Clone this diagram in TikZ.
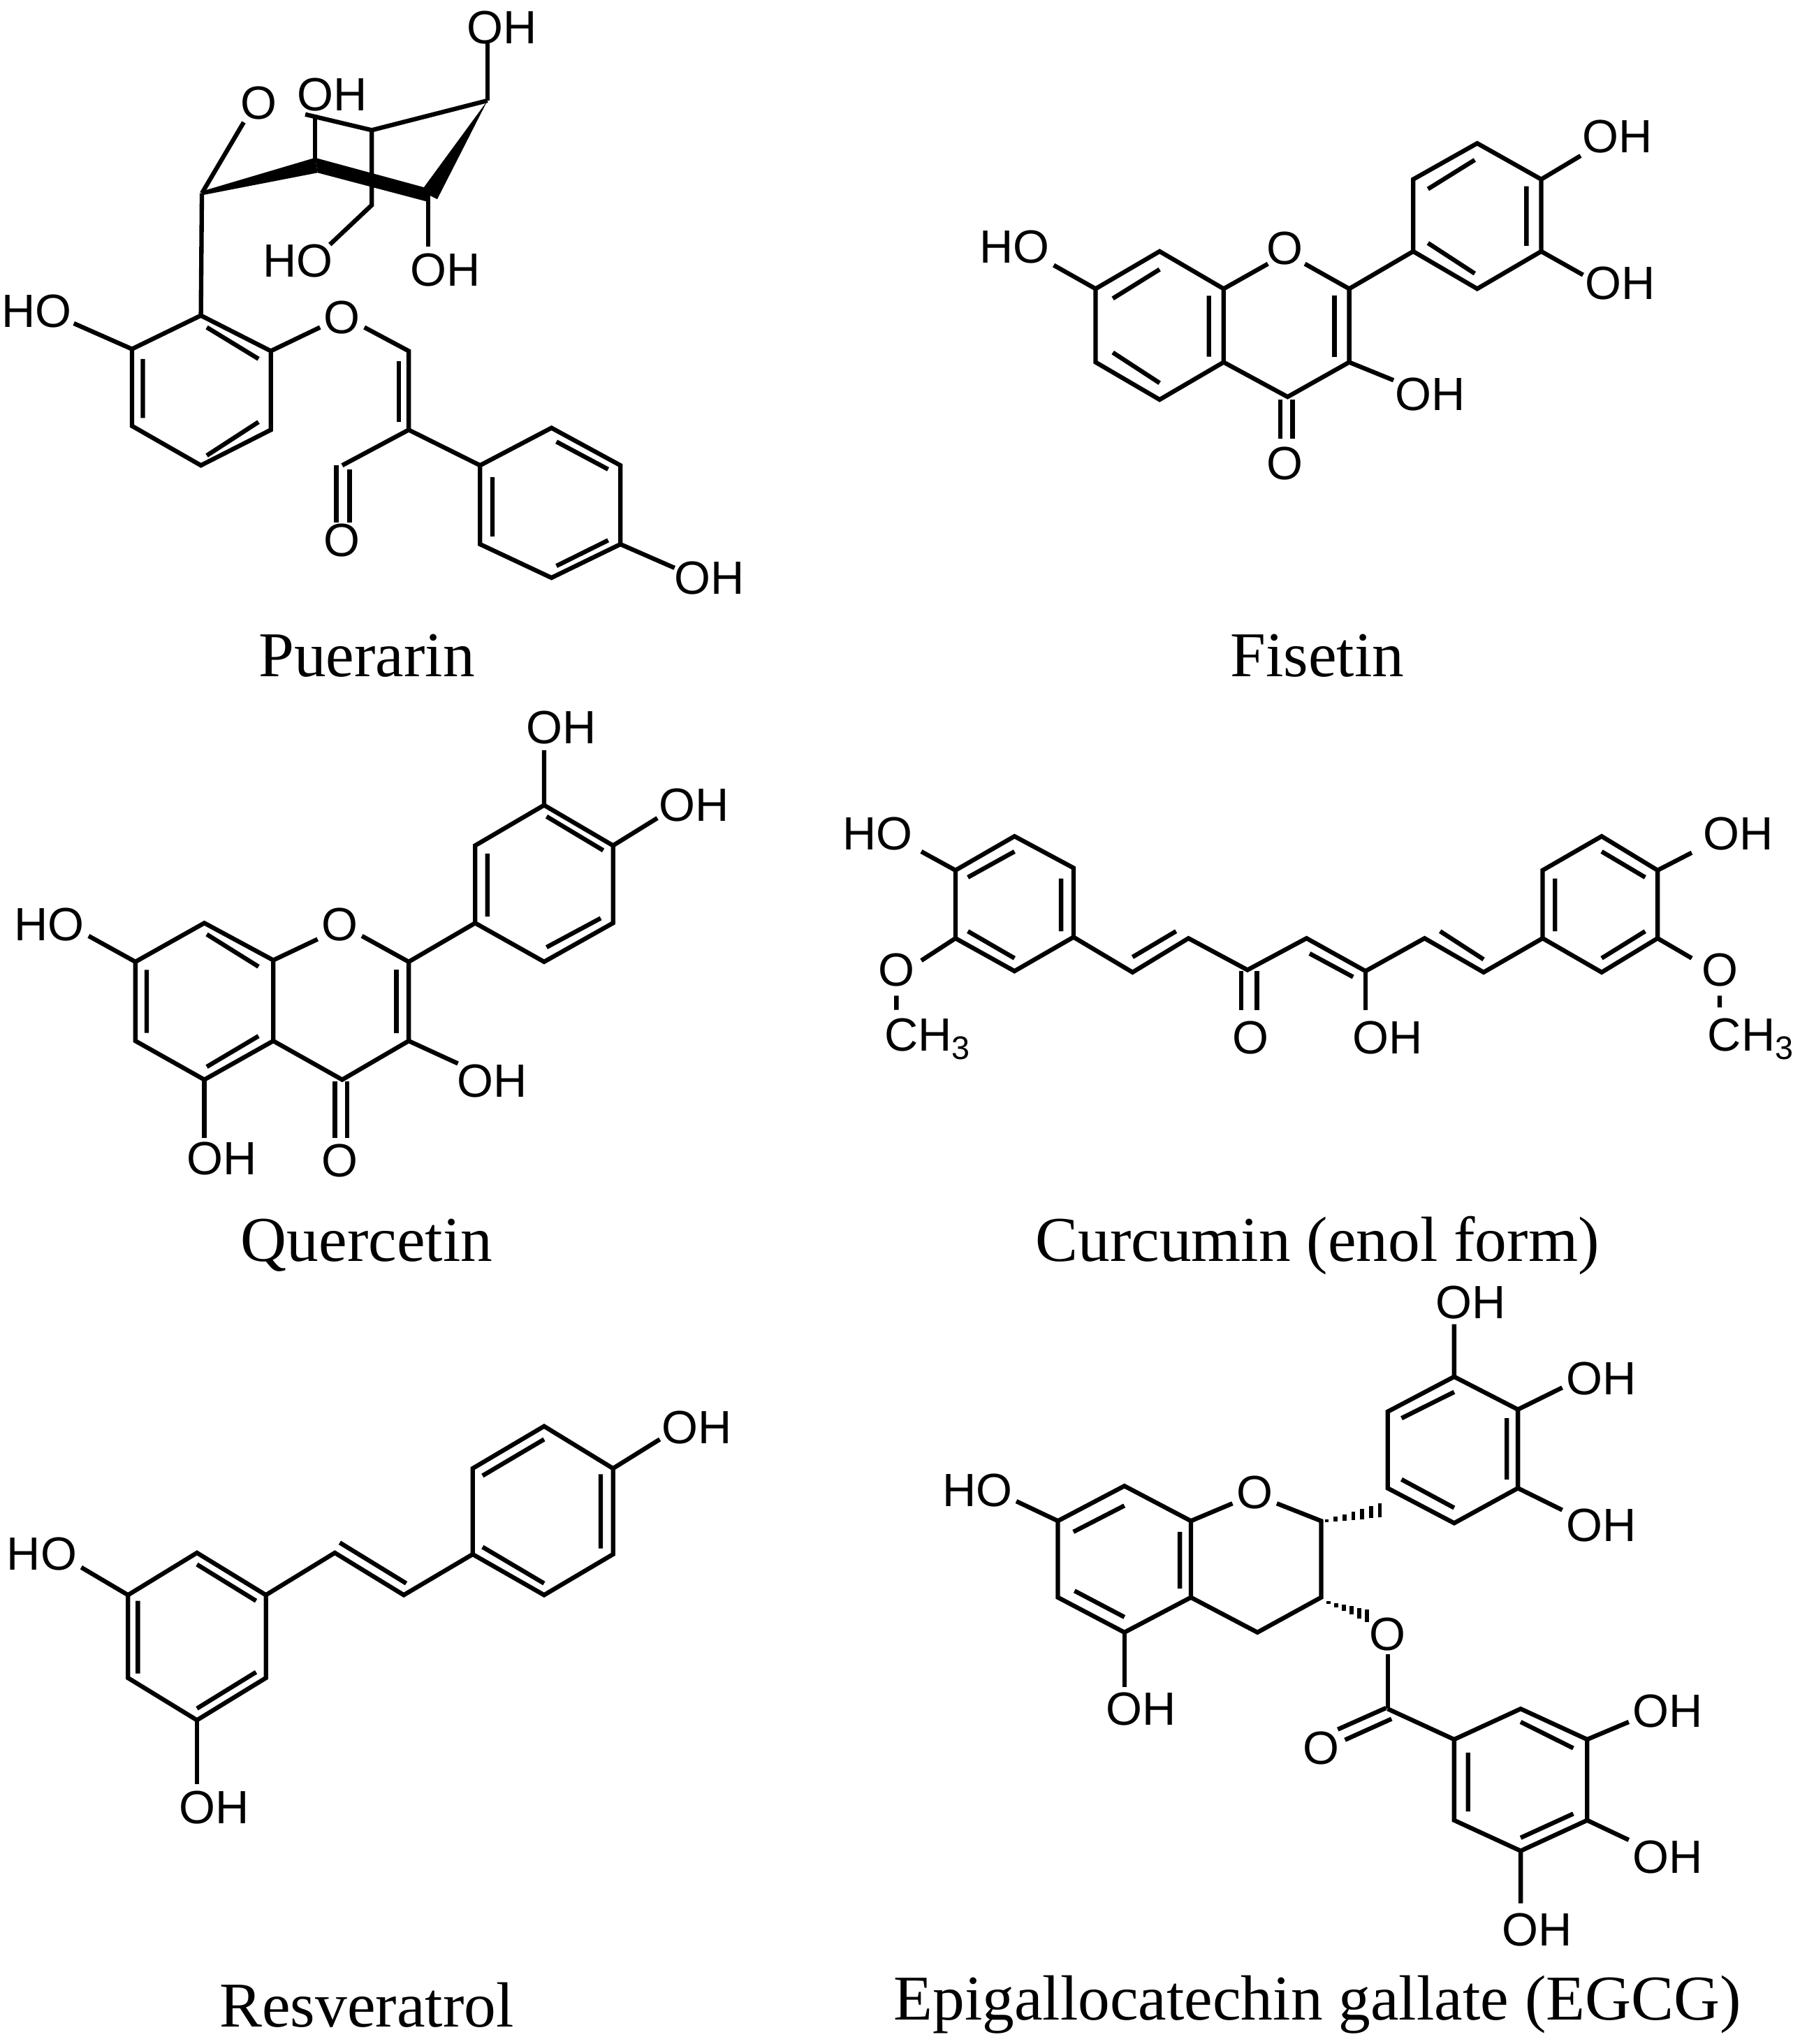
\documentclass[tikz,border=0pt]{standalone}
\usepackage{fontspec}
\setmainfont{Liberation Serif}
\newfontfamily\atomfont{Liberation Sans}
\usepackage{tikz}
\usetikzlibrary{calc}

\tikzset{
  bond/.style={line width=1.8pt, line join=miter},
  atom/.style={font=\atomfont\fontsize{19}{19}\selectfont, inner sep=0pt},
  caption/.style={font=\fontsize{26}{26}\selectfont, inner sep=0pt}
}

\begin{document}
\begin{tikzpicture}
    %% Background
    \useasboundingbox (0,0) rectangle (25.77,-29.26);

    %% Puerarin
    \begin{scope}[shift={(0cm,0cm)}, x={(0.00705cm,0)}, y={(0,-0.00564cm)}]
    \draw[bond] (150,820) -- (268,885);
    \draw[bond] (408,800) -- (268,885) -- (268,1080) -- (408,1180) -- (550,1090) -- (550,890) -- cycle;
    \draw[bond] (290,910) -- (290,1060) (420,1155) -- (525,1070) (420,830) -- (525,910);
    \draw[bond] (550,890) -- (650,830) (740,830) -- (830,890) -- (830,1090) -- (695,1180);
    \draw[bond] (810,915) -- (810,1070);
    \draw[bond] (683,1180) -- (683,1325) (710,1190) -- (710,1325);
    \draw[bond] (830,1090) -- (975,1180);
    \draw[bond] (975,1180) -- (1120,1085) -- (1260,1180) -- (1260,1380) -- (1120,1465) -- (975,1380) -- cycle;
    \draw[bond] (1130,1120) -- (1235,1190) (1235,1370) -- (1130,1435) (1000,1210) -- (1000,1360);
    \draw[bond] (1260,1380) -- (1370,1440);
    % sugar
    \draw[bond] (410,490) -- (408,800);
    \draw[bond] (410,490) -- (495,310);
    \draw[bond] (620,290) -- (755,330) -- (990,255);
    \fill (410,485) -- (640,400) -- (645,438) -- (410,495) -- cycle;
    \fill (640,400) -- (870,478) -- (870,512) -- (645,438) -- cycle;
    \fill (855,485) -- (990,255) -- (888,505) -- cycle;
    \draw[bond] (755,330) -- (755,520) -- (670,620);
    \draw[bond] (640,410) -- (640,290);
    \draw[bond] (870,495) -- (870,625);
    \draw[bond] (990,255) -- (990,110);
    \node[atom] (p7) at (75,790) {HO};
    \node[atom] (pO1) at (695,805) {O};
    \node[atom] (pO4) at (695,1370) {O};
    \node[atom] (p4) at (1440,1465) {OH};
    \node[atom] (pOs) at (525,262) {O};
    \node[atom] (p2s) at (675,240) {OH};
    \node[atom] (p6s) at (605,662) {HO};
    \node[atom] (p3s) at (905,685) {OH};
    \node[atom] (p4s) at (1020,70) {OH};
    \end{scope}

    %% Fisetin
    \begin{scope}[shift={(13.5cm,-1cm)}, x={(0.00705cm,0)}, y={(0,-0.00397cm)}]
    \draw[bond] (225,705) -- (310,790);
    \draw[bond] (440,655) -- (310,790) -- (310,1055) -- (440,1190) -- (570,1055) -- (570,790) -- cycle;
    \draw[bond] (345,825) -- (440,720) (345,1020) -- (440,1130) (540,815) -- (540,1035);
    \draw[bond] (570,790) -- (660,700) (735,700) -- (825,790) -- (825,1055) -- (700,1180) -- (570,1055);
    \draw[bond] (795,815) -- (795,1035);
    \draw[bond] (685,1190) -- (685,1330) (710,1190) -- (710,1330);
    \draw[bond] (825,1055) -- (915,1120);
    \draw[bond] (825,790) -- (955,655);
    \draw[bond] (955,655) -- (955,395) -- (1085,265) -- (1215,395) -- (1215,655) -- (1085,790) -- cycle;
    \draw[bond] (985,430) -- (1080,325) (1185,420) -- (1185,635) (985,625) -- (1080,735);
    \draw[bond] (1215,395) -- (1295,310) (1215,655) -- (1300,740);
    \node[atom] (f7) at (145,640) {HO};
    \node[atom] (fO1) at (695,645) {O};
    \node[atom] (fO4) at (695,1420) {O};
    \node[atom] (f3) at (990,1170) {OH};
    \node[atom] (f4) at (1370,240) {OH};
    \node[atom] (f3p) at (1375,770) {OH};
    \end{scope}

    %% Quercetin
    \begin{scope}[shift={(0cm,-10cm)}, x={(0.00705cm,0)}, y={(0,-0.00462cm)}]
    \draw[bond] (180,735) -- (275,815);
    \draw[bond] (415,695) -- (275,815) -- (275,1060) -- (415,1180) -- (555,1060) -- (555,810) -- cycle;
    \draw[bond] (420,730) -- (525,830) (298,840) -- (298,1035) (420,1140) -- (525,1045);
    \draw[bond] (415,1180) -- (415,1360);
    \draw[bond] (555,810) -- (645,745) (735,735) -- (830,815) -- (830,1060) -- (695,1180) -- (555,1060);
    \draw[bond] (805,840) -- (805,1035);
    \draw[bond] (680,1185) -- (680,1360) (705,1185) -- (705,1360);
    \draw[bond] (830,1060) -- (930,1130);
    \draw[bond] (830,815) -- (965,695);
    \draw[bond] (965,695) -- (965,455) -- (1105,330) -- (1245,455) -- (1245,695) -- (1105,815) -- cycle;
    \draw[bond] (990,480) -- (990,675) (1110,365) -- (1225,470) (1110,770) -- (1220,680);
    \draw[bond] (1105,330) -- (1105,160) (1245,455) -- (1335,370);
    \node[atom] (q7) at (100,700) {HO};
    \node[atom] (q5) at (450,1425) {OH};
    \node[atom] (qO1) at (690,700) {O};
    \node[atom] (qO4) at (690,1430) {O};
    \node[atom] (q3) at (1000,1185) {OH};
    \node[atom] (q3p) at (1140,90) {OH};
    \node[atom] (q4p) at (1410,330) {OH};
    \end{scope}

    %% Curcumin
    \begin{scope}[shift={(11.9cm,-11.3cm)}, x={(0.00889cm,0)}, y={(0,-0.00336cm)}]
    \draw[bond] (145,265) -- (200,345);
    \draw[bond] (295,200) -- (390,335) -- (390,630) -- (295,775) -- (200,635) -- (200,345) -- cycle;
    \draw[bond] (220,375) -- (295,265) (370,380) -- (370,605) (220,605) -- (295,720);
    \draw[bond] (200,635) -- (145,730) (105,880) -- (105,940);
    \draw[bond] (390,630) -- (485,780) -- (575,635) -- (670,770) -- (765,635) -- (860,775) -- (955,635) -- (1050,780) -- (1145,635);
    \draw[bond] (485,715) -- (555,605) (770,700) -- (840,800) (980,605) -- (1050,725);
    \draw[bond] (660,775) -- (660,940) (685,775) -- (685,940);
    \draw[bond] (860,775) -- (860,940);
    \draw[bond] (1145,635) -- (1145,345) -- (1240,200) -- (1330,345) -- (1330,635) -- (1240,780) -- cycle;
    \draw[bond] (1165,380) -- (1165,605) (1240,265) -- (1310,375) (1240,720) -- (1310,605);
    \draw[bond] (1330,345) -- (1385,270) (1330,635) -- (1385,720) (1430,880) -- (1430,930);
    \node[atom] (c4) at (75,190) {HO};
    \node[atom] (cO3) at (105,770) {O};
    \node[atom, anchor=west] (cMe) at (85,1065) {CH\textsubscript{3}};
    \node[atom] (cO) at (675,1060) {O};
    \node[atom] (cOH) at (895,1060) {OH};
    \node[atom] (c4p) at (1460,190) {OH};
    \node[atom] (cO3p) at (1430,770) {O};
    \node[atom, anchor=west] (cMep) at (1410,1065) {CH\textsubscript{3}};
    \end{scope}

    %% Resveratrol
    \begin{scope}[shift={(0cm,-20cm)}, x={(0.00705cm,0)}, y={(0,-0.00417cm)}]
    \draw[bond] (165,585) -- (260,680);
    \draw[bond] (400,535) -- (260,680) -- (260,965) -- (400,1110) -- (540,965) -- (540,680) -- cycle;
    \draw[bond] (400,575) -- (520,700) (280,700) -- (280,950) (400,1070) -- (520,945);
    \draw[bond] (400,1110) -- (400,1330);
    \draw[bond] (540,680) -- (680,535) -- (820,680) -- (960,540);
    \draw[bond] (690,500) -- (825,640);
    \draw[bond] (960,540) -- (960,245) -- (1105,100) -- (1245,245) -- (1245,540) -- (1105,680) -- cycle;
    \draw[bond] (980,270) -- (1105,145) (1220,265) -- (1220,520) (980,515) -- (1105,640);
    \draw[bond] (1245,245) -- (1340,145);
    \node[atom] (r3) at (85,540) {HO};
    \node[atom] (r5) at (435,1410) {OH};
    \node[atom] (r4p) at (1415,105) {OH};
    \end{scope}

    %% Epigallocatechin gallate
    \begin{scope}[shift={(13.4cm,-18.3cm)}, x={(0.00793cm,0)}, y={(0,-0.00625cm)}]
    \draw[bond] (145,510) -- (220,555);
    \draw[bond] (340,475) -- (220,555) -- (220,730) -- (340,810) -- (460,730) -- (460,555) -- cycle;
    \draw[bond] (248,580) -- (340,520) (440,580) -- (440,710) (250,715) -- (340,775);
    \draw[bond] (340,810) -- (340,935);
    \draw[bond] (460,555) -- (535,515) (615,515) -- (695,555) -- (695,730) -- (580,810) -- (460,730);
    \foreach \i in {0,...,6}
        \draw[line width=1.6pt] (705+16*\i,{555-4*\i-3-2.2*\i}) -- (705+16*\i,{555-4*\i+3+2.2*\i});
    \foreach \i in {0,...,5}
        \draw[line width=1.6pt] (708+14*\i,{742+6*\i-3-2.2*\i}) -- (708+14*\i,{742+6*\i+3+2.2*\i});
    \draw[bond] (815,860) -- (815,985);
    \draw[bond] (812,983) -- (725,1032) (822,1008) -- (738,1056);
    \draw[bond] (815,985) -- (935,1055);
    \draw[bond] (935,1055) -- (1055,985) -- (1175,1055) -- (1175,1240) -- (1055,1310) -- (935,1240) -- cycle;
    \draw[bond] (960,1085) -- (960,1220) (1055,1015) -- (1150,1075) (1055,1280) -- (1150,1225);
    \draw[bond] (1175,1055) -- (1250,1015) (1175,1240) -- (1250,1285) (1055,1310) -- (1055,1430);
    \draw[bond] (815,480) -- (815,305) -- (935,225) -- (1050,300) -- (1050,480) -- (935,560) -- cycle;
    \draw[bond] (840,320) -- (935,260) (1030,320) -- (1030,460) (840,460) -- (935,525);
    \draw[bond] (935,225) -- (935,105) (1050,300) -- (1130,250) (1050,480) -- (1130,530);
    \node[atom] (e7) at (75,485) {HO};
    \node[atom] (e5) at (370,985) {OH};
    \node[atom] (eO1) at (575,490) {O};
    \node[atom] (eOe) at (815,815) {O};
    \node[atom] (eOc) at (695,1075) {O};
    \node[atom] (eg3) at (1320,990) {OH};
    \node[atom] (eg4) at (1320,1325) {OH};
    \node[atom] (eg5) at (1085,1490) {OH};
    \node[atom] (eb3) at (965,55) {OH};
    \node[atom] (eb4) at (1200,230) {OH};
    \node[atom] (eb5) at (1200,565) {OH};
    \end{scope}

    %% Names
    \node[caption] (nPue) at (5.25,-9.39) {Puerarin};
    \node[caption] (nFis) at (18.86,-9.39) {Fisetin};
    \node[caption] (nQue) at (5.25,-17.83) {Quercetin};
    \node[caption] (nCur) at (18.86,-17.83) {Curcumin (enol form)};
    \node[caption] (nRes) at (5.25,-28.70) {Resveratrol};
    \node[caption] (nEgc) at (18.86,-28.70) {Epigallocatechin gallate (EGCG)};
\end{tikzpicture}
\end{document}
